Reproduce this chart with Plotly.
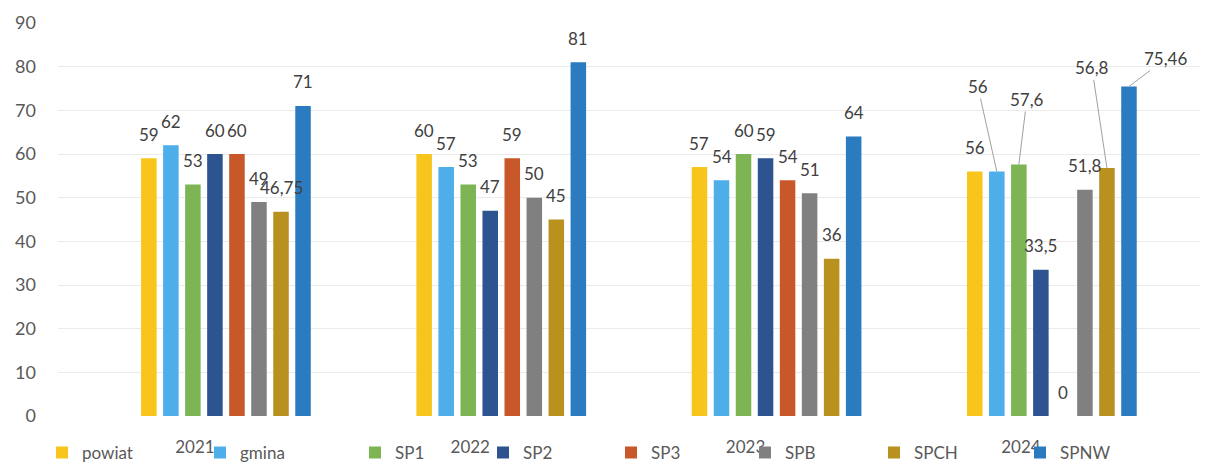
import plotly.graph_objects as go

years = ["2021", "2022", "2023", "2024"]
series = ["powiat", "gmina", "SP1", "SP2", "SP3", "SPB", "SPCH", "SPNW"]

powiat = [59, 60, 57, 56]
gmina = [62, 57, 54, 56]
sp1 = [53, 53, 60, 57.6]
sp2 = [60, 47, 59, 33.5]
sp3 = [60, 59, 54, 0]
spb = [49, 50, 51, 51.8]
spch = [46.75, 45, 36, 56.8]
spnw = [71, 81, 64, 75.46]
values = [powiat, gmina, sp1, sp2, sp3, spb, spch, spnw]

colors = ["#F8C51C", "#4DAEEA", "#7DB554", "#2D5390", "#C8582A",
          "#808080", "#B8911E", "#2A7BC0"]

# leader-line label offsets (px) for the 2024 group
leaders = {("2024", "gmina"): (-19, -85), ("2024", "SP1"): (8, -65),
           ("2024", "SPCH"): (-15, -100), ("2024", "SPNW"): (37, -28)}

# legend entry positions (px from the plot's left edge, marker centre)
legend_px = [4, 162, 317, 445, 573, 707, 836, 982]

FONT = "Lato, 'Open Sans', sans-serif"
LABEL_COLOR = "#404040"
TEXT_COLOR = "#595959"

def fmt(v):
    return f"{v:g}".replace(".", ",")

BARGAP = 0.36
BARGROUPGAP = 0.295
PLOT_W = 1142
PX_PER_CAT = 275.3
pitch = PX_PER_CAT * (1 - BARGAP) / len(series)

fig = go.Figure()
legend_layouts = {}
for k, (name, vals, col) in enumerate(zip(series, values, colors)):
    lname = "legend" if k == 0 else f"legend{k + 1}"
    fig.add_trace(go.Bar(name=name, x=years, y=vals, marker_color=col,
                         marker_line_width=0, legend=lname))
    legend_layouts[lname] = dict(
        orientation="h", x=(legend_px[k] - 20) / PLOT_W, xanchor="left",
        y=-0.094, yanchor="middle", font=dict(size=17, color=TEXT_COLOR, family=FONT),
        bgcolor="rgba(0,0,0,0)")

annotations = []
for s, (name, vals) in enumerate(zip(series, values)):
    xs = (s - (len(series) - 1) / 2) * pitch
    for i, (yr, v) in enumerate(zip(years, vals)):
        key = (yr, name)
        if key in leaders:
            ax, ay = leaders[key]
            annotations.append(dict(x=i, y=v, xref="x", yref="y", xshift=xs,
                                    text=fmt(v), showarrow=True, arrowhead=0,
                                    arrowwidth=1, arrowcolor="#A0A0A0", ax=ax, ay=ay,
                                    font=dict(size=17, color=LABEL_COLOR, family=FONT)))
        else:
            annotations.append(dict(x=i, y=v, xref="x", yref="y", xshift=xs, yshift=24,
                                    text=fmt(v), showarrow=False, yanchor="middle",
                                    font=dict(size=17, color=LABEL_COLOR, family=FONT)))

fig.update_layout(
    width=1200, height=456,
    barmode="group", bargap=BARGAP, bargroupgap=BARGROUPGAP,
    paper_bgcolor="white", plot_bgcolor="white",
    margin=dict(l=50, r=8, t=15, b=48, autoexpand=False),
    font=dict(family=FONT, color=TEXT_COLOR, size=16),
    annotations=annotations,
    showlegend=True,
    **legend_layouts,
)
fig.update_xaxes(type="category", range=[-0.61, 3.538], showgrid=False, showline=False,
                 zeroline=False, automargin=False,
                 ticks="", ticklabelshift=-31, ticklabelstandoff=19,
                 tickfont=dict(size=17, color=TEXT_COLOR))
fig.update_yaxes(range=[0, 90], dtick=10, showgrid=True, gridcolor="#EBEBEB",
                 gridwidth=1, zeroline=False, showline=False, ticks="", automargin=False,
                 ticklabelstandoff=21, tickfont=dict(size=18, color=TEXT_COLOR))

fig.write_html("out.html")
